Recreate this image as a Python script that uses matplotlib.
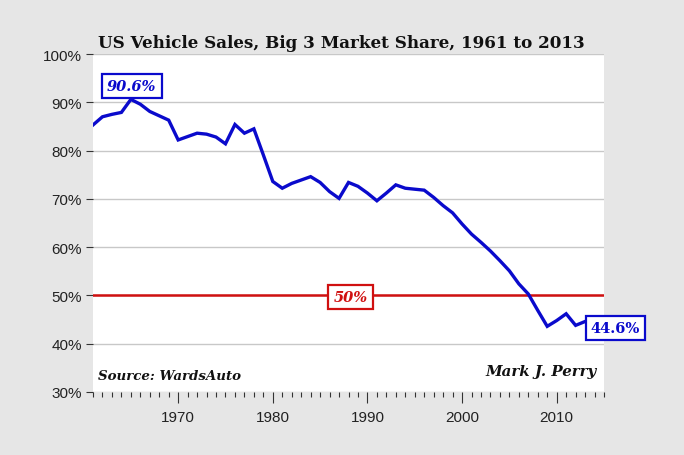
import matplotlib
matplotlib.use("Agg")
import matplotlib.pyplot as plt
from matplotlib.ticker import MultipleLocator, FuncFormatter

years = list(range(1961, 2014))
share = [85.3, 87.0, 87.5, 87.9, 90.6, 89.6, 88.1, 87.2, 86.3, 82.2,
         82.9, 83.6, 83.4, 82.8, 81.4, 85.4, 83.6, 84.5, 79.1, 73.6,
         72.2, 73.2, 73.9, 74.6, 73.4, 71.5, 70.1, 73.4, 72.6, 71.2,
         69.6, 71.2, 72.9, 72.2, 72.0, 71.8, 70.3, 68.6, 67.1, 64.8,
         62.7, 61.0, 59.2, 57.2, 55.1, 52.4, 50.3, 46.9, 43.6, 44.8,
         46.2, 43.8, 44.6]
y_ticks = [30, 40, 50, 60, 70, 80, 90, 100]
x_ticks = [1970, 1980, 1990, 2000, 2010]
title = "US Vehicle Sales, Big 3 Market Share, 1961 to 2013"
threshold = 50

BLUE = "#0a0acc"
RED = "#d01010"
SERIF = ["DejaVu Serif"]

fig = plt.figure(figsize=(6.84, 4.56), dpi=100, facecolor="#e6e6e6")
ax = fig.add_axes([93/684, 1-393/456, (604-93)/684, (393-55)/456])
ax.set_facecolor("white")

ax.set_xlim(1961, 2015)
ax.set_ylim(30, 100)
ax.set_yticks(y_ticks)
ax.yaxis.set_major_formatter(FuncFormatter(lambda v, p: f"{v:.0f}%"))
ax.set_xticks(x_ticks)
ax.xaxis.set_minor_locator(MultipleLocator(1))
ax.grid(axis="y", color="#c8c8c8", linewidth=1)
ax.set_axisbelow(True)
for s in ["top", "right", "left", "bottom"]:
    ax.spines[s].set_visible(False)
ax.tick_params(axis="y", length=5, width=0.8, color="#333333", labelsize=11,
               labelcolor="#222222", pad=3)
ax.tick_params(axis="x", which="major", length=8, width=0.8, color="#333333",
               labelsize=11, labelcolor="#222222", pad=5)
ax.tick_params(axis="x", which="minor", length=3.5, width=0.8, color="#333333")
for lab in ax.get_xticklabels() + ax.get_yticklabels():
    lab.set_fontfamily(["Liberation Sans", "DejaVu Sans"])

ax.axhline(threshold, color=RED, linewidth=1.8, zorder=2)
ax.plot(years, share, color=BLUE, linewidth=2.4, zorder=3, solid_joinstyle="miter")

fig.text(98/684, 1-44/456, title, fontsize=12.05, fontweight="bold",
         family=SERIF, va="center", ha="left", color="#111111")

peak_i = share.index(max(share))
ax.text(1965.1, 93.4, f"{share[peak_i]:.1f}%", fontsize=10.5, fontweight="bold",
        fontstyle="italic", family=SERIF, color=BLUE, ha="center", va="center",
        bbox=dict(boxstyle="square,pad=0.35", fc="white", ec=BLUE, lw=1.6), zorder=5)
ax.text(1988.2, threshold - 0.3, f"{threshold}%", fontsize=10.5, fontweight="bold",
        fontstyle="italic", family=SERIF, color=RED, ha="center", va="center",
        bbox=dict(boxstyle="square,pad=0.35", fc="white", ec=RED, lw=1.6), zorder=5)
ax.text(2016.2, share[-1] - 1.3, f"{share[-1]:.1f}%", fontsize=10.5, fontweight="bold",
        family=SERIF, color=BLUE, ha="center", va="center", clip_on=False,
        bbox=dict(boxstyle="square,pad=0.35", fc="white", ec=BLUE, lw=1.6), zorder=5)

ax.text(0.01, 0.03, "Source: WardsAuto", transform=ax.transAxes, fontsize=9.6,
        fontweight="bold", fontstyle="italic", family=SERIF, color="#111111",
        ha="left", va="bottom")
ax.text(0.985, 0.04, "Mark J. Perry", transform=ax.transAxes, fontsize=10.8,
        fontweight="bold", fontstyle="italic", family=SERIF, color="#111111",
        ha="right", va="bottom")

fig.savefig("out.png", dpi=100, facecolor=fig.get_facecolor())
